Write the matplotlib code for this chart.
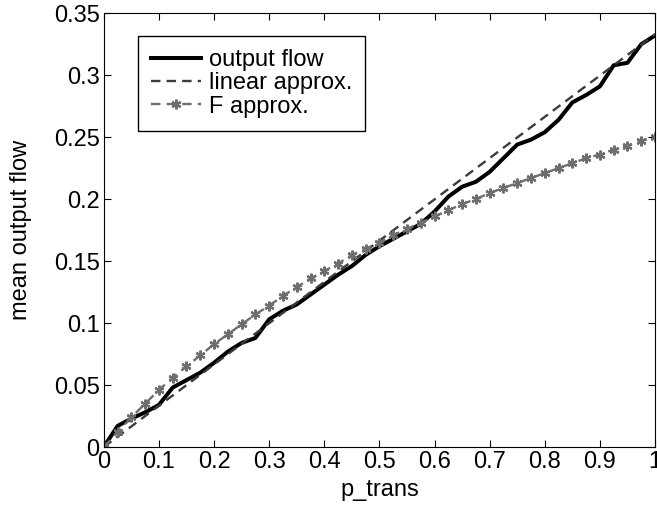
import matplotlib
matplotlib.use('Agg')
from matplotlib import pyplot as plt
from matplotlib.ticker import FormatStrFormatter

plt.rcParams['font.family'] = ['Liberation Sans', 'DejaVu Sans']

p_trans = [0, .025, .05, .075, .1, .125, .15, .175, .2, .225, .25, .275, .3, .325, .35,
           .375, .4, .425, .45, .475, .5, .525, .55, .575, .6, .625, .65, .675, .7, .725,
           .75, .775, .8, .825, .85, .875, .9, .925, .95, .975, 1]
output_flow = [0, 0.017, 0.023, 0.028, 0.034, 0.048, 0.054, 0.060, 0.068, 0.077, 0.084,
               0.088, 0.103, 0.110, 0.115, 0.123, 0.131, 0.139, 0.146, 0.155, 0.162,
               0.168, 0.174, 0.180, 0.190, 0.202, 0.210, 0.214, 0.222, 0.233, 0.244,
               0.248, 0.254, 0.264, 0.278, 0.284, 0.291, 0.308, 0.310, 0.325, 0.332]
f_approx = [0, 0.012, 0.024, 0.035, 0.046, 0.056, 0.065, 0.074, 0.083, 0.091, 0.099,
            0.107, 0.114, 0.122, 0.129, 0.136, 0.142, 0.148, 0.155, 0.160, 0.165,
            0.171, 0.176, 0.181, 0.186, 0.191, 0.196, 0.200, 0.205, 0.209, 0.213,
            0.217, 0.221, 0.225, 0.229, 0.233, 0.236, 0.240, 0.243, 0.247, 0.250]
lin_x = [0, 1]
lin_y = [0, 0.333]

fig = plt.figure(figsize=(6.57, 5.08), dpi=100)
ax = fig.add_axes([0.158, 0.12, 0.839, 0.854])

ax.plot(p_trans, output_flow, color='black', lw=2.9, label='output flow')
ax.plot(lin_x, lin_y, color='#3c3c3c', lw=1.7, dashes=(4.0, 2.6), label='linear approx.')
# matlab style asterisk marker
ax.plot(p_trans, f_approx, color='#6e6e6e', lw=1.7, dashes=(4.0, 2.6), marker=(6, 2, 0),
        ms=7, mew=1.6, mec='#6e6e6e', label='F approx.')

ax.set_xlim(0, 1)
ax.set_ylim(0, 0.35)
ax.set_xticks([i / 10 for i in range(11)])
ax.set_yticks([i * 0.05 for i in range(8)])
ax.xaxis.set_major_formatter(FormatStrFormatter('%g'))
ax.yaxis.set_major_formatter(FormatStrFormatter('%g'))
ax.tick_params(direction='in', length=5, top=True, right=True, labelsize=17, pad=3)
ax.set_xlabel('p_trans', fontsize=17, labelpad=4)
ax.set_ylabel('mean output flow', fontsize=17, labelpad=16)

leg = ax.legend(loc='upper left', bbox_to_anchor=(0.062, 0.947), fontsize=17,
                fancybox=False, edgecolor='black', framealpha=1, handlelength=2.1,
                handletextpad=0.35, labelspacing=0.05, borderpad=0.55, borderaxespad=0)
leg.get_frame().set_linewidth(1.0)

fig.savefig('out.png', dpi=100)
